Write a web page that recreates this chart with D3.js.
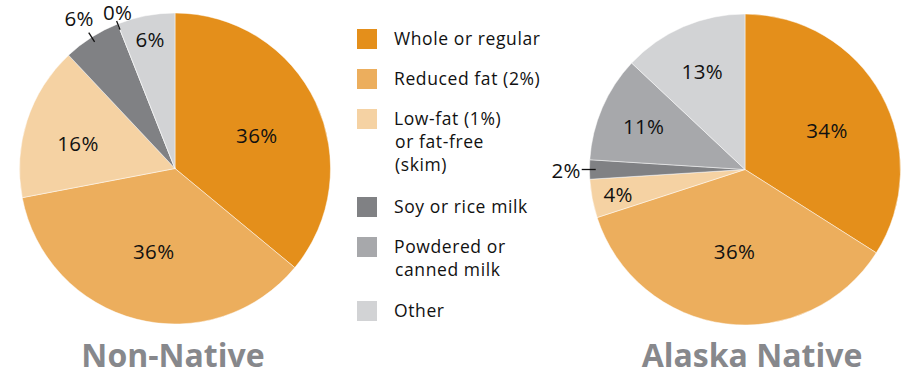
<!DOCTYPE html>
<html>
<head>
<meta charset="utf-8">
<script src="https://cdn.jsdelivr.net/npm/d3@7"></script>
<style>
  html, body { margin: 0; padding: 0; background: #ffffff; }
  svg { display: block; }
  text { font-family: "Open Sans", "Noto Sans", sans-serif; }
</style>
</head>
<body>
<svg id="chart" width="905" height="373"></svg>
<script>
// ---- data ----
const categories = [
  "Whole or regular",
  "Reduced fat (2%)",
  "Low-fat (1%)\nor fat-free\n(skim)",
  "Soy or rice milk",
  "Powdered or\ncanned milk",
  "Other"
];
const nonNativeValues = [36, 36, 16, 6, 0, 6];
const alaskaNativeValues = [34, 36, 4, 2, 11, 13];
const pieTitles = ["Non-Native", "Alaska Native"];

// ---- styling ----
const colors = ["#E48F1B", "#ECAE5D", "#F5D2A3", "#808184", "#A7A8AB", "#D2D3D5"];
const svg = d3.select("#chart");
const R = 155.5;

const pieSpecs = [
  { values: nonNativeValues, title: pieTitles[0], cx: 175, cy: 168.5, titleX: 173,
    labelR: [0.57, 0.55, 0.645, 1.15, 1.07, 0.85],
    leader: [null, null, null, [0.965, 1.035], [0.96, 1.02], null],
    labelAngleOffset: [0.047, 0, -0.058, 0, 0.025, 0] },
  { values: alaskaNativeValues, title: pieTitles[1], cx: 745, cy: 169.5, titleX: 752,
    labelR: [0.585, 0.53, 0.83, 1.15, 0.71, 0.69],
    leader: [null, null, null, [0.96, 1.05], null, null],
    labelAngleOffset: [0.054, 0, 0, 0, 0, 0] }
];

const pie = d3.pie().sort(null).value(d => d);
const arc = d3.arc().innerRadius(0).outerRadius(R);

function polar(cx, cy, r, a) {
  return [cx + r * Math.sin(a), cy - r * Math.cos(a)];
}

pieSpecs.forEach(spec => {
  const g = svg.append("g");
  const arcs = pie(spec.values);
  g.append("g")
    .attr("transform", `translate(${spec.cx},${spec.cy})`)
    .selectAll("path")
    .data(arcs)
    .join("path")
    .attr("d", arc)
    .attr("fill", (d, i) => colors[i])
    .attr("stroke", "#ffffff")
    .attr("stroke-width", 0.6)
    .attr("stroke-opacity", 0.8);

  arcs.forEach((d, i) => {
    const mid = (d.startAngle + d.endAngle) / 2 + spec.labelAngleOffset[i];
    const lr = spec.labelR[i] * R;
    const [lx, ly] = polar(spec.cx, spec.cy, lr, mid);
    if (spec.leader[i]) {
      const m0 = (d.startAngle + d.endAngle) / 2;
      const [x1, y1] = polar(spec.cx, spec.cy, spec.leader[i][0] * R, m0);
      const [x2, y2] = polar(spec.cx, spec.cy, spec.leader[i][1] * R, m0);
      g.append("line")
        .attr("x1", x1).attr("y1", y1).attr("x2", x2).attr("y2", y2)
        .attr("stroke", "#111111").attr("stroke-width", 1.3);
    }
    g.append("text")
      .attr("x", lx)
      .attr("y", ly)
      .attr("text-anchor", "middle")
      .attr("dominant-baseline", "central")
      .attr("font-size", 20.5)
      .attr("letter-spacing", 0.4)
      .attr("fill", "#111111")
      .text(d.data + "%");
  });

  svg.append("text")
    .attr("x", spec.titleX)
    .attr("y", 367)
    .attr("text-anchor", "middle")
    .attr("font-size", 32)
    .attr("font-weight", "bold")
    .attr("fill", "#87888C")
    .text(spec.title);
});

// ---- legend ----
const legendTops = [29, 69, 109, 197, 237, 301];
const legend = svg.append("g");
categories.forEach((c, i) => {
  legend.append("rect")
    .attr("x", 357).attr("y", legendTops[i])
    .attr("width", 20).attr("height", 20)
    .attr("fill", colors[i]);
  const t = legend.append("text")
    .attr("x", 394)
    .attr("y", legendTops[i] + 16)
    .attr("font-size", 17.5)
    .attr("letter-spacing", 0.6)
    .attr("fill", "#111111");
  c.split("\n").forEach((line, j) => {
    t.append("tspan").attr("x", j === 0 ? 394 : 395).attr("dy", j === 0 ? 0 : 23).text(line);
  });
});
</script>
</body>
</html>
